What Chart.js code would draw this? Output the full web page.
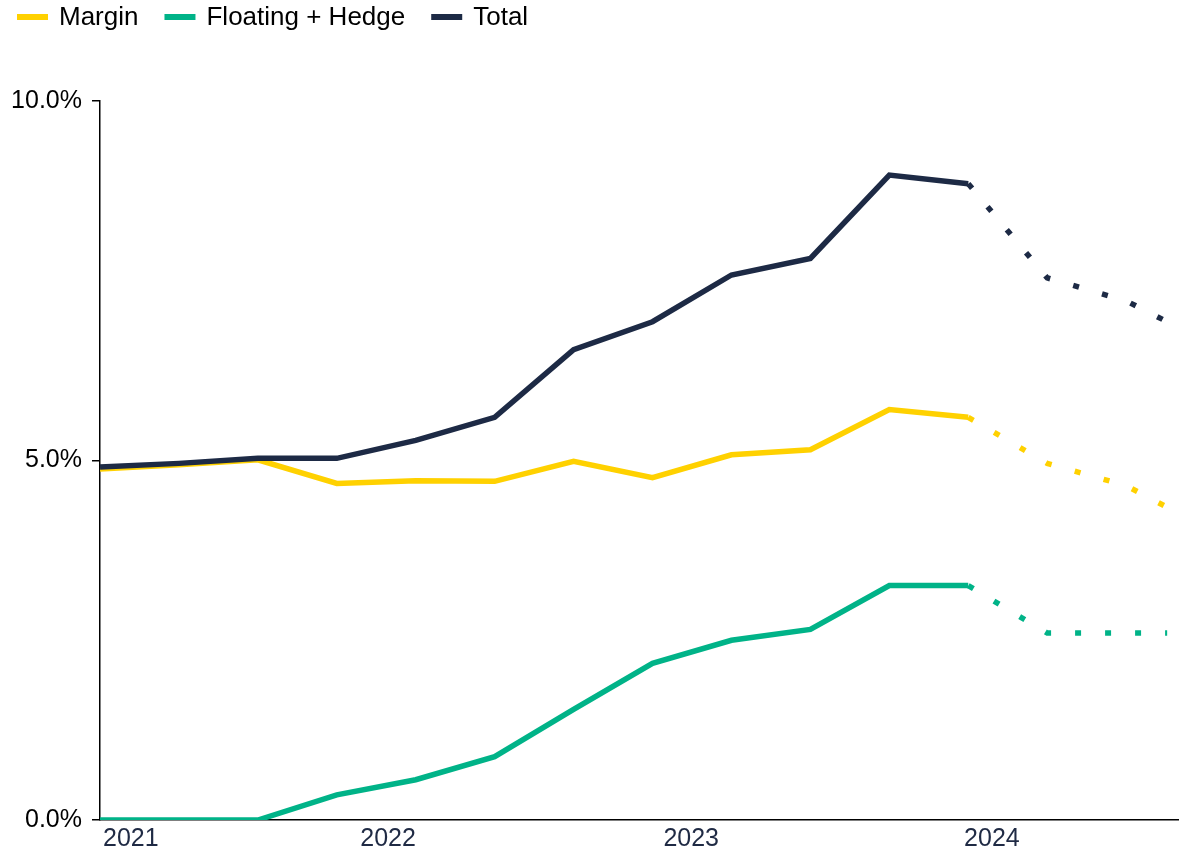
<!DOCTYPE html>
<html>
<head>
<meta charset="utf-8">
<script src="https://cdn.jsdelivr.net/npm/chart.js@4.4.1/dist/chart.umd.min.js"></script>
<style>
    html, body { margin: 0; padding: 0; background: #fff; }
    #wrap { position: relative; width: 1179px; height: 856px; }
</style>
</head>
<body>
<div id="wrap"><canvas id="chart"></canvas></div>
<script>
(function () {
    'use strict';

    // Quarterly periods from early 2021; from period 11 on it is a forecast (dotted)
    var periods = [0, 1, 2, 3, 4, 5, 6, 7, 8, 9, 10, 11, 12, 13, 13.52];
    var forecastFrom = 11;

    var margin = [4.88, 4.94, 5.01, 4.68, 4.72, 4.71, 4.99, 4.76, 5.08, 5.15, 5.71, 5.60, 4.96, 4.65, 4.35];
    var floatingHedge = [0, 0, 0, 0.35, 0.56, 0.88, 1.54, 2.18, 2.50, 2.65, 3.26, 3.26, 2.60, 2.60, 2.60];
    var total = [4.91, 4.96, 5.03, 5.03, 5.28, 5.60, 6.54, 6.93, 7.58, 7.81, 8.97, 8.85, 7.54, 7.22, 6.93];

    var yearLabels = ['2021', '2022', '2023', '2024'];
    var yearTickAt = [0.39, 3.65, 7.49, 11.30];
    var yTicks = [0, 5, 10];

    var FONT = '"Liberation Sans", Arial, sans-serif';
    Chart.defaults.font.family = FONT;

    function points(ys) {
        return ys.map(function (y, i) { return { x: periods[i], y: y }; });
    }

    function series(label, ys, color, order) {
        return {
            label: label,
            data: points(ys),
            borderColor: color,
            backgroundColor: color,
            borderWidth: 5.5,
            borderCapStyle: 'butt',
            borderJoinStyle: 'miter',
            pointRadius: 0,
            tension: 0,
            order: order,
            segment: {
                borderDash: function (ctx) {
                    return ctx.p0.parsed.x >= forecastFrom ? [6, 24] : undefined;
                },
            },
        };
    }

    // Legend row across the top, swatch + label
    var topLegend = {
        id: 'topLegend',
        afterDraw: function (chart) {
            var ctx = chart.ctx;
            var x = 17;
            var y = 17;
            ctx.save();
            ctx.font = '26px ' + FONT;
            ctx.textBaseline = 'middle';
            chart.data.datasets.forEach(function (ds) {
                ctx.fillStyle = ds.borderColor;
                ctx.fillRect(x, y - 3, 31, 6);
                ctx.fillStyle = '#000';
                ctx.fillText(ds.label, x + 42, y + 1);
                x += 42 + ctx.measureText(ds.label).width + 26;
            });
            ctx.restore();
        },
    };

    new Chart(document.getElementById('chart'), {
        type: 'line',
        data: {
            datasets: [
                series('Margin', margin, '#FFD100', 2),
                series('Floating + Hedge', floatingHedge, '#00B388', 1),
                series('Total', total, '#1D2A45', 0),
            ],
        },
        options: {
            responsive: true,
            maintainAspectRatio: false,
            animation: false,
            devicePixelRatio: 1,
            layout: { padding: { top: 101, left: 0, right: 0, bottom: 0 } },
            plugins: {
                legend: { display: false },
                tooltip: { enabled: false },
            },
            scales: {
                x: {
                    type: 'linear',
                    min: 0,
                    max: 13.67,
                    grid: { display: false, drawTicks: false },
                    border: { display: true, color: '#000', width: 1.5 },
                    afterBuildTicks: function (scale) {
                        scale.ticks = yearTickAt.map(function (v) { return { value: v }; });
                    },
                    afterFit: function (scale) { scale.height = 36; },
                    ticks: {
                        autoSkip: false,
                        maxRotation: 0,
                        padding: 4,
                        color: '#1F2A44',
                        font: { size: 25 },
                        callback: function (v, i) { return yearLabels[i]; },
                    },
                },
                y: {
                    min: 0,
                    max: 10,
                    afterBuildTicks: function (scale) {
                        scale.ticks = yTicks.map(function (v) { return { value: v }; });
                    },
                    afterFit: function (scale) { scale.width = 100; },
                    grid: { drawOnChartArea: false, tickLength: 8, color: '#000', lineWidth: 1.5 },
                    border: { display: true, color: '#000', width: 1.5 },
                    ticks: {
                        padding: 10,
                        color: '#000',
                        font: { size: 25 },
                        callback: function (v) { return v.toFixed(1) + '%'; },
                    },
                },
            },
        },
        plugins: [topLegend],
    });
})();
</script>
</body>
</html>
